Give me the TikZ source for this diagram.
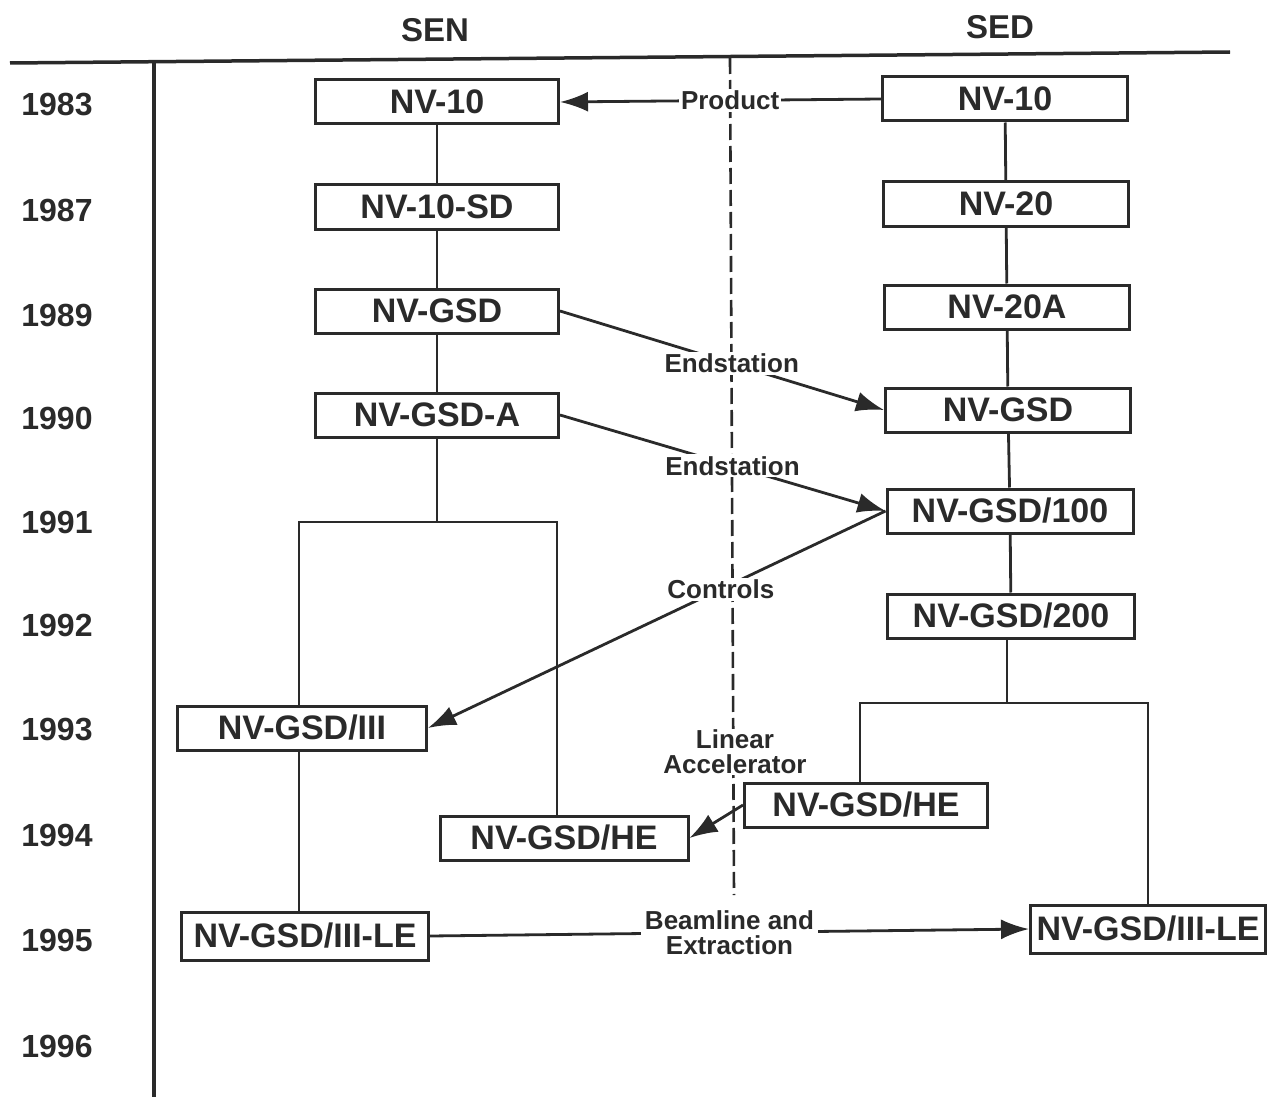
\documentclass[tikz,border=0pt]{standalone}
\usepackage{fontspec}
\setmainfont{Liberation Sans}
\usetikzlibrary{arrows.meta}
\definecolor{ink}{HTML}{2A2A2A}
\begin{document}
\begin{tikzpicture}[x=1pt,y=-1pt,
  every node/.style={text=ink},
  box/.style={draw=ink, line width=3pt, minimum width=245pt, minimum height=44pt, inner sep=0pt, fill=white, font=\fontsize{34}{38}\selectfont\bfseries},
  yr/.style={font=\fontsize{32}{36}\selectfont\bfseries},
  hdr/.style={font=\fontsize{33}{36}\selectfont\bfseries},
  lbl/.style={fill=white, inner sep=2pt, font=\fontsize{26}{29}\selectfont\bfseries, align=center},
  ln/.style={draw=ink, line width=2.8pt},
  arr/.style={ln, -{Latex[length=28pt,width=20pt]}}
]
\useasboundingbox (0,0) rectangle (1267,1097);

% frame lines
\coordinate (tl) at (10,63);
\coordinate (tr) at (1230,52);
\draw[ln, line width=3.5pt] (tl) -- (tr);
\coordinate (ax1) at (154,62);
\coordinate (ax2) at (154,1097);
\draw[ln, line width=3.5pt] (ax1) -- (ax2);
\coordinate (d1) at (730,58);
\coordinate (d2) at (734,895);
\draw[draw=ink, line width=2.6pt, dash pattern=on 16pt off 6pt] (d1) -- (d2);

% headers
\node[hdr] (hsen) at (435,30) {SEN};
\node[hdr] (hsed) at (1000,27) {SED};

% years
\node[yr] (y83) at (57,105) {1983};
\node[yr] (y87) at (57,210) {1987};
\node[yr] (y89) at (57,315) {1989};
\node[yr] (y90) at (57,418) {1990};
\node[yr] (y91) at (57,522) {1991};
\node[yr] (y92) at (57,625) {1992};
\node[yr] (y93) at (57,730) {1993};
\node[yr] (y94) at (57,835) {1994};
\node[yr] (y95) at (57,940) {1995};
\node[yr] (y96) at (57,1046) {1996};

% SEN column
\node[box, minimum width=243pt] (s1) at (437,102) {NV-10};
\node[box, minimum width=243pt] (s2) at (437,207) {NV-10-SD};
\node[box, minimum width=243pt] (s3) at (437,311) {NV-GSD};
\node[box, minimum width=243pt] (s4) at (437,415) {NV-GSD-A};
\node[box, minimum width=249pt] (s5) at (302,728) {NV-GSD/III};
\node[box, minimum width=248pt] (s6) at (564,838) {NV-GSD/HE};
\node[box, minimum width=247pt, minimum height=48pt] (s7) at (305,936) {NV-GSD/III-LE};

% SED column
\node[box] (e1) at (1005,99) {NV-10};
\node[box] (e2) at (1006,204) {NV-20};
\node[box] (e3) at (1007,307) {NV-20A};
\node[box] (e4) at (1008,410) {NV-GSD};
\node[box, minimum width=246pt] (e5) at (1010,511) {NV-GSD/100};
\node[box, minimum width=247pt] (e6) at (1011,616) {NV-GSD/200};
\node[box, minimum width=243pt] (e7) at (866,805) {NV-GSD/HE};
\node[box, minimum width=235pt, minimum height=48pt] (e8) at (1148,929) {NV-GSD/III-LE};

% SEN tree
\draw[ln] (s1) -- (s2);
\draw[ln] (s2) -- (s3);
\draw[ln] (s3) -- (s4);
\coordinate (sb) at (437,522);
\draw[ln] (s4.south) -- (sb);
\draw[ln] (s5.north -| 299,0) |- (sb) -| (s6.north -| 557,0);
\draw[ln] (s5.south -| 299,0) -- (s7.north -| 299,0);

% SED tree
\draw[ln] (e1) -- (e2);
\draw[ln] (e2) -- (e3);
\draw[ln] (e3) -- (e4);
\draw[ln] (e4) -- (e5);
\draw[ln] (e5) -- (e6);
\coordinate (db) at (1007,703);
\draw[ln] (e6.south -| db) -- (db);
\draw[ln] (e7.north -| 860,0) |- (db) -| (e8.north);

% cross connectors
\draw[arr] (e1.west) -- node[lbl, pos=0.47] {Product} (s1.east);
\draw[arr] (s3.east) -- node[lbl, pos=0.53] {Endstation} (e4.west);
\draw[arr] (s4.east) -- node[lbl, pos=0.53] {Endstation} (e5.west);
\draw[arr] (e5.west) -- node[lbl, pos=0.36] {Controls} (s5.east);
\draw[arr] (e7.west) -- (s6.east);
\node[lbl, inner sep=1pt] (lin) at (735,752) {Linear\\[-4pt]Accelerator};
\draw[arr] (s7.east) -- node[lbl, pos=0.5, inner sep=4pt] {Beamline and\\[-4pt]Extraction} (e8.west);
\end{tikzpicture}
\end{document}
